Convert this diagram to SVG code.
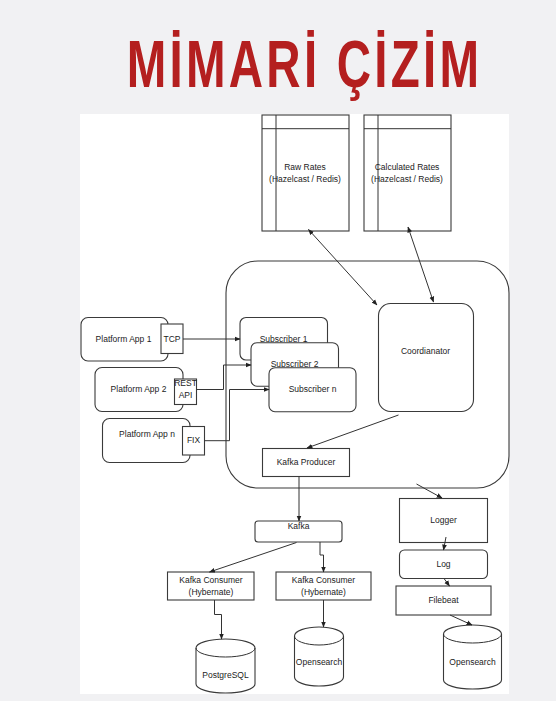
<svg xmlns="http://www.w3.org/2000/svg" width="556" height="701" viewBox="0 0 556 701">
<defs>
<marker id="arr" viewBox="0 0 10 10" refX="9" refY="5" markerWidth="6" markerHeight="6" orient="auto-start-reverse" markerUnits="userSpaceOnUse">
<path d="M0,1 L10,5 L0,9 Z" fill="#222"/>
</marker>
</defs>
<style>
.bx{fill:#fff;stroke:#3a3a3a;stroke-width:1.1}
.ln{fill:none;stroke:#333;stroke-width:1}
.t{font-family:"Liberation Sans",Arial,sans-serif;font-size:8.5px;fill:#222;text-anchor:middle;dominant-baseline:middle}
.title{font-family:"Liberation Sans",Arial,sans-serif;font-weight:bold;font-size:66px;fill:#b41f1f;text-anchor:middle;letter-spacing:4.5px}
</style>
<rect x="0" y="0" width="556" height="701" fill="#f1f1f3"/>
<text class="title" transform="translate(304.5,87) scale(0.72,1)" x="0" y="0">MİMARİ ÇİZİM</text>
<rect x="80" y="114" width="429" height="580" fill="#fff"/>

<g id="raw-rates">
<rect class="bx" x="262" y="115" width="87" height="116"/>
<line class="ln" x1="276" y1="115" x2="276" y2="231"/>
<line class="ln" x1="262" y1="128.7" x2="349" y2="128.7"/>
<text class="t" x="305" y="168">Raw Rates</text>
<text class="t" x="305" y="179.5">(Hazelcast / Redis)</text>
</g>
<g id="calculated-rates">
<rect class="bx" x="364" y="115" width="87" height="116"/>
<line class="ln" x1="378" y1="115" x2="378" y2="231"/>
<line class="ln" x1="364" y1="128.7" x2="451" y2="128.7"/>
<text class="t" x="407" y="168">Calculated Rates</text>
<text class="t" x="407" y="179.5">(Hazelcast / Redis)</text>
</g>

<g id="container">
<rect class="bx" x="226" y="261" width="283" height="227" rx="32"/>
</g>

<g id="platform-app-1">
<rect class="bx" x="81" y="317.5" width="87" height="43.5" rx="7"/>
<rect class="bx" x="161" y="324" width="22" height="29.5"/>
<text class="t" x="123.5" y="339.5">Platform App 1</text>
<text class="t" x="172" y="339.5">TCP</text>
</g>
<g id="platform-app-2">
<rect class="bx" x="95" y="367.5" width="88" height="44" rx="7"/>
<rect class="bx" x="174.5" y="379" width="22" height="25.5"/>
<text class="t" x="138.5" y="389.5">Platform App 2</text>
<text class="t" x="185.5" y="384">REST</text>
<text class="t" x="185.5" y="396">API</text>
</g>
<g id="platform-app-n">
<rect class="bx" x="102.5" y="418.5" width="87.5" height="44" rx="7"/>
<rect class="bx" x="182.5" y="426.5" width="22" height="28.5"/>
<text class="t" x="147" y="435">Platform App n</text>
<text class="t" x="193.5" y="441">FIX</text>
</g>

<g id="subscriber-1">
<rect class="bx" x="240" y="317.5" width="87.5" height="42.5" rx="6"/>
<text class="t" x="283.5" y="339.5">Subscriber 1</text>
</g>
<g id="subscriber-2">
<rect class="bx" x="251" y="342.7" width="87.5" height="43.5" rx="6"/>
<text class="t" x="294.5" y="364.5">Subscriber 2</text>
</g>
<g id="subscriber-n">
<rect class="bx" x="269" y="367.7" width="87" height="44" rx="6"/>
<text class="t" x="312.5" y="390">Subscriber n</text>
</g>

<g id="coordinator">
<rect class="bx" x="378.5" y="303.5" width="95" height="108" rx="12"/>
<text class="t" x="425.5" y="352">Coordianator</text>
</g>

<g id="kafka-producer">
<rect class="bx" x="262.5" y="448.5" width="87" height="28"/>
<text class="t" x="306" y="463">Kafka Producer</text>
</g>

<g id="kafka">
<rect class="bx" x="255" y="521" width="87" height="21" rx="3"/>
<text class="t" x="298.5" y="527">Kafka</text>
</g>

<g id="kafka-consumer-1">
<rect class="bx" x="167.5" y="572" width="86.5" height="28"/>
<text class="t" x="211" y="581">Kafka Consumer</text>
<text class="t" x="211" y="592.5">(Hybernate)</text>
</g>
<g id="kafka-consumer-2">
<rect class="bx" x="276" y="572" width="95" height="28"/>
<text class="t" x="323.5" y="581">Kafka Consumer</text>
<text class="t" x="323.5" y="592.5">(Hybernate)</text>
</g>

<g id="postgresql">
<path class="bx" d="M196,648 A29.5,9 0 0,1 255,648 L255,684 A29.5,9 0 0,1 196,684 Z"/>
<path class="ln" d="M196,648 A29.5,9 0 0,0 255,648"/>
<text class="t" x="225.5" y="676">PostgreSQL</text>
</g>
<g id="opensearch-1">
<path class="bx" d="M294.5,636 A24.5,9 0 0,1 343.5,636 L343.5,677 A24.5,9 0 0,1 294.5,677 Z"/>
<path class="ln" d="M294.5,636 A24.5,9 0 0,0 343.5,636"/>
<text class="t" x="319" y="663">Opensearch</text>
</g>

<g id="logger">
<rect class="bx" x="399.5" y="498.5" width="88" height="44"/>
<text class="t" x="443.5" y="521">Logger</text>
</g>
<g id="log">
<rect class="bx" x="399.5" y="550" width="88" height="28.5" rx="5"/>
<text class="t" x="443.5" y="564.5">Log</text>
</g>
<g id="filebeat">
<rect class="bx" x="396" y="586" width="95" height="29"/>
<text class="t" x="443.5" y="601">Filebeat</text>
</g>
<g id="opensearch-2">
<path class="bx" d="M443.5,634 A29,9 0 0,1 501.5,634 L501.5,680 A29,9 0 0,1 443.5,680 Z"/>
<path class="ln" d="M443.5,634 A29,9 0 0,0 501.5,634"/>
<text class="t" x="472.5" y="663">Opensearch</text>
</g>

<g id="connectors">
<line class="ln" x1="308.5" y1="229.5" x2="377" y2="305" marker-start="url(#arr)" marker-end="url(#arr)"/>
<line class="ln" x1="408" y1="227" x2="433.5" y2="302" marker-start="url(#arr)" marker-end="url(#arr)"/>
<line class="ln" x1="183" y1="339" x2="240" y2="339" marker-end="url(#arr)"/>
<polyline class="ln" points="196.5,389.5 223.5,389.5 223.5,365 251,365" marker-end="url(#arr)"/>
<polyline class="ln" points="204.5,440.7 229.5,440.7 229.5,389.5 269,389.5" marker-end="url(#arr)"/>
<line class="ln" x1="398.5" y1="415" x2="307" y2="448" marker-end="url(#arr)"/>
<line class="ln" x1="299" y1="476.5" x2="299" y2="521" marker-end="url(#arr)"/>
<line class="ln" x1="296.5" y1="542.5" x2="209.5" y2="572" marker-end="url(#arr)"/>
<polyline class="ln" points="320,542 320,555 323.5,555 323.5,572" marker-end="url(#arr)"/>
<polyline class="ln" points="214.5,600 214.5,614.5 221.5,614.5 221.5,639" marker-end="url(#arr)"/>
<line class="ln" x1="323.5" y1="600" x2="323.5" y2="627" marker-end="url(#arr)"/>
<line class="ln" x1="416.5" y1="484" x2="442" y2="498" marker-end="url(#arr)"/>
<line class="ln" x1="446" y1="537" x2="443.5" y2="550" marker-end="url(#arr)"/>
<line class="ln" x1="444" y1="578.5" x2="449.5" y2="586" marker-end="url(#arr)"/>
<line class="ln" x1="450" y1="615" x2="472" y2="625" marker-end="url(#arr)"/>
</g>
</svg>
